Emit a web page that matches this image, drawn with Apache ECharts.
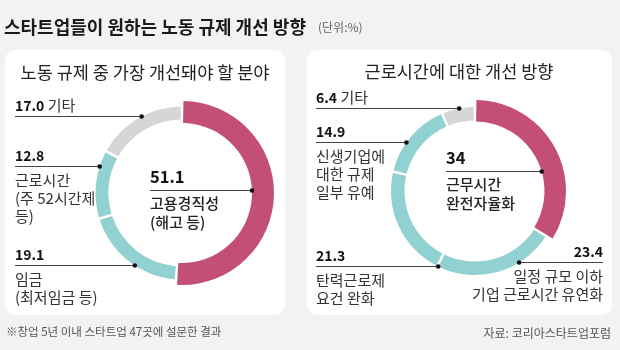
<!DOCTYPE html>
<html>
<head>
<meta charset="utf-8">
<script src="https://cdn.jsdelivr.net/npm/echarts@6/dist/echarts.min.js"></script>
<style>
  html, body { margin: 0; padding: 0; background: #f2f2f2; }
  #chart { width: 620px; height: 350px; }
</style>
</head>
<body>
<div id="chart"></div>
<script>
// data, clockwise from 12 o'clock
const leftNames = ['고용경직성\n(해고 등)', '임금\n(최저임금 등)', '근로시간\n(주 52시간제\n등)', '기타'];
const leftValues = [51.1, 19.1, 12.8, 17.0];
const rightNames = ['근무시간\n완전자율화', '일정 규모 이하\n기업 근로시간 유연화', '탄력근로제\n요건 완화', '신생기업에\n대한 규제\n일부 유예', '기타'];
const rightValues = [34, 23.4, 21.3, 14.9, 6.4];

const RED = '#c34f79', TEAL = '#92d1d1', GREY = '#d6d6d6';
const FONT = '"Noto Sans CJK KR", "Noto Sans", sans-serif';

// label placement: y of the leader line, x where the text begins
const leftLabelPos = [
  { y: 190.5, x: 150 },
  { y: 265.5, x: 15 },
  { y: 166.5, x: 15 },
  { y: 116.5, x: 15 }
];
const rightLabelPos = [
  { y: 171.5, x: 446 },
  { y: 262.5, x: 603, right: true },
  { y: 266.5, x: 316 },
  { y: 142.5, x: 316 },
  { y: 108.5, x: 316 }
];

const donuts = [
  { names: leftNames, values: leftValues, fmt: v => v.toFixed(1), pos: leftLabelPos,
    center: [182, 193], thick: [70, 92], thin: [73.5, 86.5] },
  { names: rightNames, values: rightValues, fmt: v => String(v), pos: rightLabelPos,
    center: [475, 191], thick: [69.5, 91], thin: [70.5, 84] }
];

const rich = {
  num: { fontFamily: FONT, fontSize: 14, fontWeight: 'bold', color: '#111', lineHeight: 32 },
  txt: { fontFamily: FONT, fontSize: 15, color: '#333', lineHeight: 18 },
  big: { fontFamily: FONT, fontSize: 16.5, fontWeight: 'bold', color: '#111', lineHeight: 36 },
  ctxt: { fontFamily: FONT, fontSize: 15, fontWeight: 500, color: '#222', lineHeight: 18.5 }
};

function labelText(d, i) {
  const v = d.fmt(d.values[i]);
  if (i === 0) return '{big|' + v + '}\n{ctxt|' + d.names[i] + '}';
  if (i === d.values.length - 1) return '{num|' + v + '}{txt| ' + d.names[i] + '}';
  return '{num|' + v + '}\n{txt|' + d.names[i] + '}';
}

// where the leader line meets the ring
function dotX(d, i) {
  const p = d.pos[i];
  const dy = p.y - d.center[1];
  if (i === 0) return d.center[0] + Math.sqrt(d.thick[0] * d.thick[0] - dy * dy);
  return d.center[0] + (p.right ? 1 : -1) * Math.sqrt(d.thin[1] * d.thin[1] - dy * dy);
}

function layoutLabel(d, i) {
  const p = d.pos[i];
  const dx = dotX(d, i);
  return {
    x: p.x,
    y: p.y - (i === 0 ? 32 : 27),
    align: p.right ? 'right' : 'left',
    verticalAlign: 'top',
    labelLinePoints: [[dx, p.y], [p.x, p.y], [p.x, p.y]]
  };
}

const series = [];
const dots = [];
donuts.forEach(d => {
  const n = d.values.length;
  const color = i => i === 0 ? RED : (i === n - 1 ? GREY : TEAL);
  ['thick', 'thin'].forEach(ring => {
    series.push({
      type: 'pie',
      silent: true,
      center: d.center,
      radius: d[ring],
      padAngle: 1.8,
      avoidLabelOverlap: false,
      label: {
        show: true,
        position: 'outside',
        rich: rich,
        formatter: p => labelText(d, p.dataIndex)
      },
      labelLine: { show: true, length: 0, length2: 0, lineStyle: { color: '#444', width: 1 } },
      labelLayout: p => layoutLabel(d, p.dataIndex),
      data: d.values.map((v, i) => {
        const mine = ring === 'thick' ? i === 0 : i > 0;
        return {
          value: v,
          name: d.names[i],
          itemStyle: { color: mine ? color(i) : 'transparent' },
          label: { show: mine },
          labelLine: { show: mine }
        };
      })
    });
  });
  d.values.forEach((v, i) => {
    dots.push({
      type: 'circle', z: 50,
      shape: { cx: dotX(d, i), cy: d.pos[i].y, r: 2.3 },
      style: { fill: '#111' }
    });
  });
});

function text(str, x, y, size, opts) {
  return {
    type: 'text', z: 10,
    style: {
      text: str, x: x, y: y,
      font: (opts && opts.weight || 'normal') + ' ' + size + 'px ' + FONT,
      fill: (opts && opts.color) || '#222',
      align: (opts && opts.align) || 'left', textAlign: (opts && opts.align) || 'left',
      verticalAlign: 'middle', textVerticalAlign: 'middle'
    }
  };
}

const chart = echarts.init(document.getElementById('chart'));
chart.setOption({
  animation: false,
  backgroundColor: '#f2f2f2',
  graphic: [
    { type: 'rect', z: 0, shape: { x: 5, y: 50, width: 280, height: 265, r: 10 }, style: { fill: '#fff' } },
    { type: 'rect', z: 0, shape: { x: 307, y: 50, width: 305, height: 265, r: 10 }, style: { fill: '#fff' } },
    text('스타트업들이 원하는 노동 규제 개선 방향', 4, 27, 18, { weight: 'bold', color: '#1a1a1a' }),
    text('(단위:%)', 318, 27, 12, { color: '#666' }),
    text('노동 규제 중 가장 개선돼야 할 분야', 145, 72, 17.5, { align: 'center' }),
    text('근로시간에 대한 개선 방향', 459, 71, 17.5, { align: 'center' }),
    text('※창업 5년 이내 스타트업 47곳에 설문한 결과', 6, 332, 11.5, { color: '#555' }),
    text('자료: 코리아스타트업포럼', 611, 333, 12, { color: '#555', align: 'right' })
  ].concat(dots),
  series: series
});
</script>
</body>
</html>
